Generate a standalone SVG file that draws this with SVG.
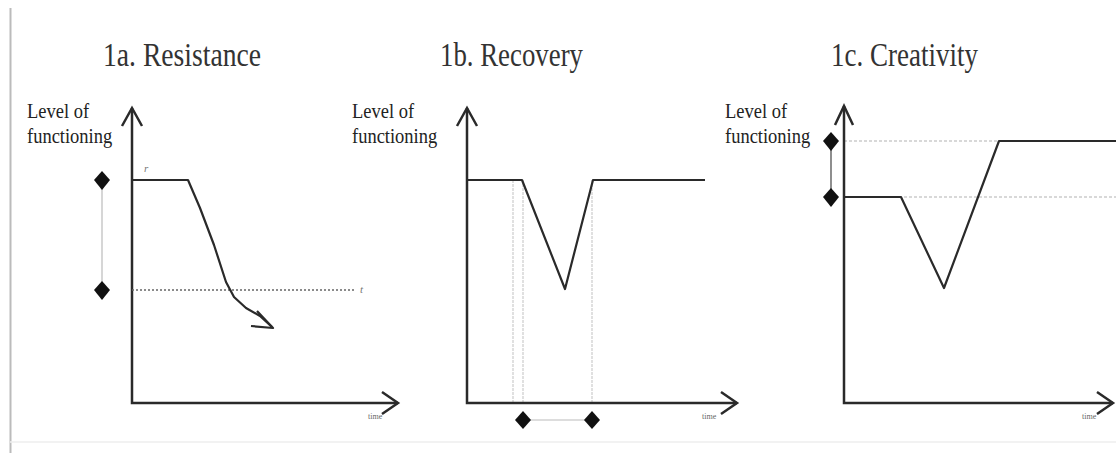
<svg xmlns="http://www.w3.org/2000/svg" width="1116" height="453" viewBox="0 0 1116 453">
<style>
.title{font-family:"Liberation Serif","Times New Roman",serif;font-size:28px;fill:#333}
.lab{font-family:"Liberation Serif","Times New Roman",serif;font-size:18.5px;fill:#222}
.tiny{font-family:"Liberation Serif","Times New Roman",serif;font-size:8px;fill:#666}
.sm{font-family:"Liberation Serif","Times New Roman",serif;font-size:11px;font-style:italic;fill:#777}
.axis{fill:none;stroke:#2a2a2a;stroke-width:2.5;stroke-linejoin:miter}
.curve{fill:none;stroke:#2a2a2a;stroke-width:2.2;stroke-linejoin:round}
.guide{fill:none;stroke:#bbb;stroke-width:1.2}
.vguide{fill:none;stroke:#ccc;stroke-width:1.2;stroke-dasharray:3 1}
.dash{fill:none;stroke:#666;stroke-width:1.5;stroke-dasharray:2 2}
.dot{fill:none;stroke:#ccc;stroke-width:1.5;stroke-dasharray:3 2}
.dia{fill:#111}
</style>
<rect width="1116" height="453" fill="#fff"/>
<line x1="10.5" y1="8" x2="10.5" y2="453" stroke="#bbb" stroke-width="2"/>
<line x1="10" y1="442" x2="1116" y2="442" stroke="#eee" stroke-width="1.5"/>

<g id="panel-1a">
  <text class="title" transform="translate(103,66) scale(1,1.18)" textLength="158" lengthAdjust="spacingAndGlyphs">1a. Resistance</text>
  <text class="lab" transform="translate(27,118) scale(1,1.12)">Level of</text>
  <text class="lab" transform="translate(27,143) scale(1,1.12)">functioning</text>
  <polyline class="axis" points="132,108 132,403 398,403"/>
  <polyline class="axis" points="122,126 132,108 142,126"/>
  <polyline class="axis" points="382,392 398,403 382,414"/>
  <text class="tiny" x="368" y="419">time</text>
  <line class="guide" x1="102" y1="180" x2="102" y2="290"/>
  <polygon class="dia" points="102,171 110,180 102,190 94,180"/>
  <polygon class="dia" points="102,281 110,290 102,300 94,290"/>
  <line class="dash" x1="132" y1="290" x2="355" y2="290"/>
  <text class="sm" x="360" y="293">t</text>
  <text class="sm" x="144" y="172">r</text>
  <polyline class="curve" points="132,180 188,180 200,208 214,245 226,282 234,297 246,308 260,316 272,327"/>
  <polyline class="curve" points="257,311 273,328 251,326"/>
</g>

<g id="panel-1b">
  <text class="title" transform="translate(440,66) scale(1,1.18)" textLength="143" lengthAdjust="spacingAndGlyphs">1b. Recovery</text>
  <text class="lab" transform="translate(352,118) scale(1,1.12)">Level of</text>
  <text class="lab" transform="translate(352,143) scale(1,1.12)">functioning</text>
  <line class="vguide" x1="513" y1="180" x2="513" y2="403"/>
  <line class="vguide" x1="523" y1="180" x2="523" y2="403"/>
  <line class="vguide" x1="592" y1="180" x2="592" y2="403"/>
  <polyline class="axis" points="467,108 467,403 737,403"/>
  <polyline class="axis" points="457,126 467,108 477,126"/>
  <polyline class="axis" points="721,392 737,403 721,414"/>
  <text class="tiny" x="702" y="419">time</text>
  <polyline class="curve" points="467,180 522,180 565,289 593,180 705,180"/>
  <line class="guide" x1="523" y1="420" x2="592" y2="420"/>
  <polygon class="dia" points="523,411 531,420 523,429 515,420"/>
  <polygon class="dia" points="592,411 600,420 592,429 584,420"/>
</g>

<g id="panel-1c">
  <text class="title" transform="translate(831,66) scale(1,1.18)" textLength="147" lengthAdjust="spacingAndGlyphs">1c. Creativity</text>
  <text class="lab" transform="translate(725,118) scale(1,1.12)">Level of</text>
  <text class="lab" transform="translate(725,143) scale(1,1.12)">functioning</text>
  <line class="dot" x1="844" y1="141" x2="1116" y2="141"/>
  <line class="dot" x1="844" y1="197" x2="1116" y2="197"/>
  <polyline class="axis" points="844,106 844,403 1113,403"/>
  <polyline class="axis" points="835,125 844,106 853,125"/>
  <polyline class="axis" points="1097,392 1113,403 1097,414"/>
  <text class="tiny" x="1082" y="419">time</text>
  <polyline class="curve" points="844,197 901,197 944,288 999,141 1116,141"/>
  <line x1="831" y1="141" x2="831" y2="197" stroke="#444" stroke-width="1.2"/>
  <polygon class="dia" points="831,132 839,141 831,151 823,141"/>
  <polygon class="dia" points="831,188 839,197 831,207 823,197"/>
</g>
</svg>
